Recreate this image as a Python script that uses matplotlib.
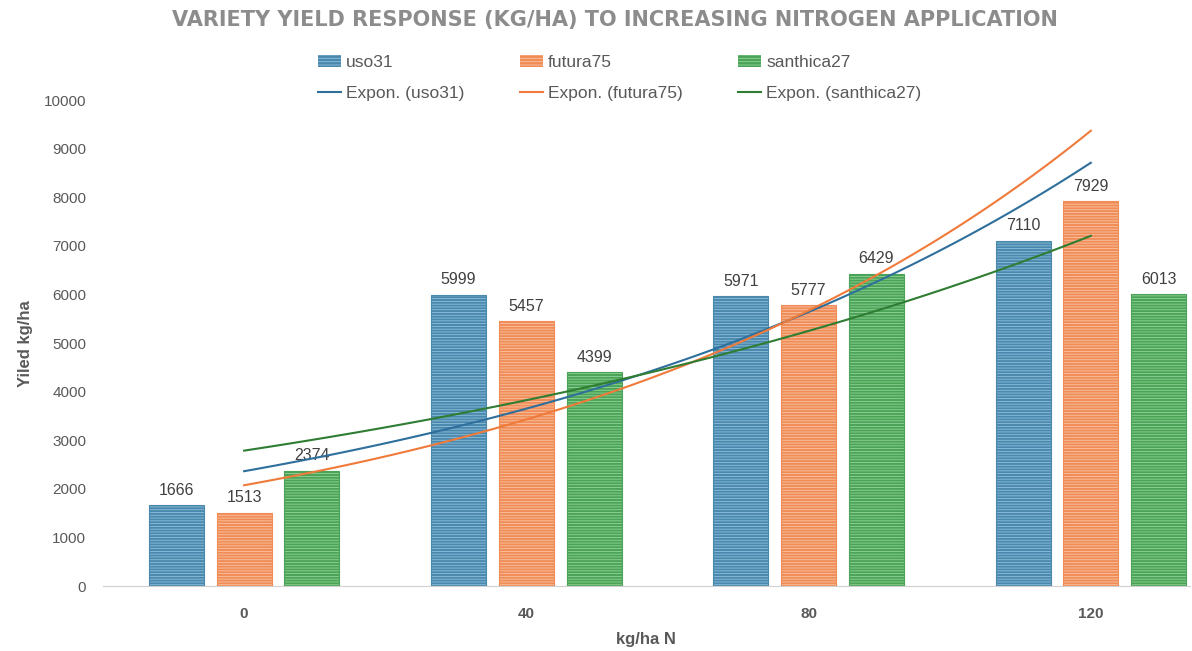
import numpy as np
import matplotlib.pyplot as plt
from matplotlib.patches import Patch
from matplotlib.lines import Line2D

plt.rcParams['font.family'] = ['Liberation Sans', 'DejaVu Sans']

nitrogen = ["0", "40", "80", "120"]
varieties = ["uso31", "futura75", "santhica27"]
uso31 = [1666, 5999, 5971, 7110]
futura75 = [1513, 5457, 5777, 7929]
santhica27 = [2374, 4399, 6429, 6013]
yields = [uso31, futura75, santhica27]

colors = ["#4a88ad", "#f08c57", "#4aa356"]
stripe = ["#8fc0dc", "#f9c4a4", "#93d39b"]
trend_colors = ["#2f6f9c", "#f07a3a", "#2e7d32"]

fig = plt.figure(figsize=(11.92, 6.51), dpi=100)
ax = fig.add_axes([0.0864, 0.0998, 0.9116, 0.7462])

x = np.arange(len(nitrogen))
width = 0.195
offsets = [-0.24, 0.0, 0.24]
plt.rcParams['hatch.linewidth'] = 0.6

handles = []
for vals, off, c, s, name in zip(yields, offsets, colors, stripe, varieties):
    ax.bar(x + off, vals, width, color=c, edgecolor=s, linewidth=0, hatch='------', zorder=2)
    ax.bar(x + off, vals, width, fill=False, edgecolor=c, linewidth=0.8, zorder=3)
    for xi, v in zip(x + off, vals):
        ax.text(xi, v + 150, str(v), ha='center', va='bottom', fontsize=11.5, color='#404040')

# exponential trendlines, fitted on the series index like a spreadsheet does
xs = np.linspace(0, 3, 100)
for vals, c in zip(yields, trend_colors):
    b, a = np.polyfit(x + 1, np.log(vals), 1)
    ax.plot(xs, np.exp(a + b * (xs + 1)), color=c, linewidth=1.5, zorder=4)

ax.set_xlim(-0.5, 3.35)
ax.set_ylim(0, 10000)
ax.set_yticks(range(0, 10001, 1000))
ax.set_xticks(x)
ax.set_xticklabels(nitrogen, fontsize=11, fontweight='bold', color='#595959')
ax.tick_params(axis='y', labelsize=11, labelcolor='#595959', length=0, pad=12)
ax.tick_params(axis='x', length=0, pad=15)
for sp in ['top', 'right', 'left']:
    ax.spines[sp].set_visible(False)
ax.spines['bottom'].set_color('#d0d0d0')

ax.set_ylabel("Yiled kg/ha", fontsize=12, fontweight='bold', color='#595959', labelpad=8)
ax.set_xlabel("kg/ha N", fontsize=12, fontweight='bold', color='#595959', labelpad=8)

fig.suptitle("VARIETY YIELD RESPONSE (KG/HA) TO INCREASING NITROGEN APPLICATION",
             x=0.516, y=0.984, fontsize=15, fontweight='bold', color='#8c8c8c',
             family='DejaVu Sans')

for c, s, tc, name in zip(colors, stripe, trend_colors, varieties):
    handles.append(Patch(facecolor=c, edgecolor=s, hatch='-----', linewidth=0, label=name))
    handles.append(Line2D([], [], color=tc, linewidth=1.5, label="Expon. (%s)" % name))
fig.legend(handles=handles, ncol=3, loc='upper center', bbox_to_anchor=(0.52, 0.94),
           frameon=False, fontsize=12.5, labelcolor='#595959', handlelength=1.3,
           handletextpad=0.3, columnspacing=3.2, labelspacing=0.95)

fig.savefig("out.png", dpi=100)
